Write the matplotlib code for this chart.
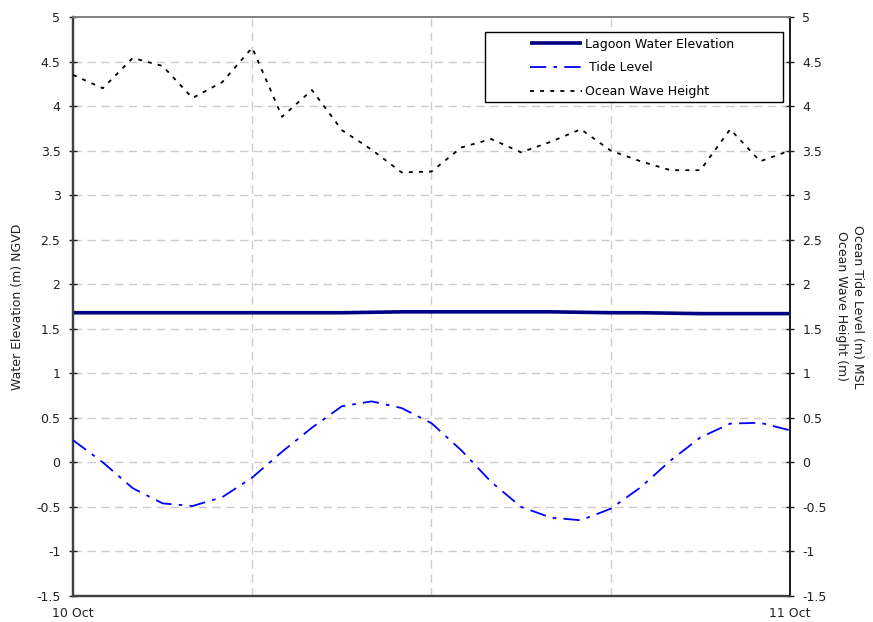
import matplotlib
matplotlib.use("Agg")
import matplotlib.pyplot as plt
from matplotlib.patches import Rectangle

plt.rcParams['font.family'] = ['DejaVu Sans']
plt.rcParams['font.size'] = 9

# Hourly readings, 10 Oct 00:00 to 11 Oct 00:00
hours = list(range(25))
lagoon_elev = [1.68, 1.68, 1.68, 1.68, 1.68, 1.68, 1.68, 1.68, 1.68, 1.68,
               1.685, 1.69, 1.69, 1.69, 1.69, 1.69, 1.69, 1.685, 1.68, 1.68,
               1.675, 1.67, 1.67, 1.67, 1.67]
tide_level = [0.25, 0.0, -0.29, -0.46, -0.49, -0.39, -0.17, 0.12, 0.39, 0.63,
              0.685, 0.61, 0.44, 0.135, -0.22, -0.5, -0.62, -0.65, -0.52, -0.28,
              0.02, 0.28, 0.435, 0.445, 0.36]
wave_height = [4.35, 4.2, 4.54, 4.45, 4.09, 4.27, 4.655, 3.88, 4.18, 3.73,
               3.51, 3.255, 3.265, 3.535, 3.63, 3.48, 3.6, 3.74, 3.5, 3.38,
               3.28, 3.28, 3.74, 3.38, 3.5]

x_tick_pos = [0, 24]
x_tick_labels = ["10 Oct", "11 Oct"]
y_ticks = [-1.5, -1, -0.5, 0, 0.5, 1, 1.5, 2, 2.5, 3, 3.5, 4, 4.5, 5]
y_tick_labels = ["-1.5", "-1", "-0.5", "0", "0.5", "1", "1.5", "2", "2.5",
                 "3", "3.5", "4", "4.5", "5"]

fig = plt.figure(figsize=(8.73, 6.22), dpi=100)
ax = fig.add_axes([0.0836, 0.0418, 0.8213, 0.9309])
ax2 = ax.twinx()

grid_kw = dict(color="#cccccc", linewidth=1.0, linestyle=(0, (6, 4)))

ax.set_xlim(0, 24)
ax.set_ylim(-1.5, 5)
ax2.set_ylim(-1.5, 5)

# gridlines
for yv in y_ticks[1:-1]:
    ax.axhline(yv, zorder=0, **grid_kw)
for xv in [6, 12, 18]:
    ax.axvline(xv, zorder=0, **grid_kw)

l_lagoon, = ax.plot(hours, lagoon_elev, color="#000080", linewidth=2.6,
                    solid_capstyle="butt", zorder=3)
l_tide, = ax2.plot(hours, tide_level, color="#0000ff", linewidth=1.3,
                   linestyle=(0, (9, 4, 2, 4)), zorder=3)
l_wave, = ax2.plot(hours, wave_height, color="black", linewidth=1.3,
                   linestyle=(0, (2.2, 3.4)), zorder=3)

ax.set_xticks(x_tick_pos)
ax.set_xticklabels(x_tick_labels)
ax.tick_params(axis="x", length=0, pad=8, labelsize=9, colors="#202020")

ax.set_yticks(y_ticks)
ax.set_yticklabels(y_tick_labels)
ax2.set_yticks(y_ticks)
ax2.set_yticklabels(y_tick_labels)
ax.tick_params(axis="y", direction="inout", length=6, width=1, pad=6,
               labelsize=9, colors="#202020")
ax2.tick_params(axis="y", direction="inout", length=6, width=1, pad=6,
                labelsize=9, colors="#202020")

for a in (ax, ax2):
    a.spines["left"].set_color("#404040")
    a.spines["left"].set_linewidth(1.6)
    a.spines["bottom"].set_color("#404040")
    a.spines["bottom"].set_linewidth(1.6)
    a.spines["top"].set_color("#808080")
    a.spines["top"].set_linewidth(1.2)
    a.spines["right"].set_color("#202020")
    a.spines["right"].set_linewidth(1.4)

ax.set_ylabel("Water Elevation (m) NGVD", fontsize=9, color="#202020")
ax.yaxis.set_label_coords(-0.069, 0.5)
ax2.set_ylabel("Ocean Tide Level (m) MSL\nOcean Wave Height (m)",
               fontsize=9, color="#202020", rotation=270, linespacing=1.3)
ax2.yaxis.set_label_coords(1.103, 0.5)

# legend frame and entries
ax2.add_patch(Rectangle((0.5746, 0.853), 0.4156, 0.121,
                        transform=ax2.transAxes, facecolor="white",
                        edgecolor="black", linewidth=1.0, zorder=5))
leg = ax2.legend([l_lagoon, l_tide, l_wave],
                 ["Lagoon Water Elevation", " Tide Level", "Ocean Wave Height"],
                 loc="upper left", bbox_to_anchor=(0.637, 0.964),
                 frameon=False, borderpad=0, borderaxespad=0,
                 handlelength=4.2, handletextpad=0.25, labelspacing=0.85,
                 fontsize=9)
leg.set_zorder(6)

fig.savefig("out.png", dpi=100)
